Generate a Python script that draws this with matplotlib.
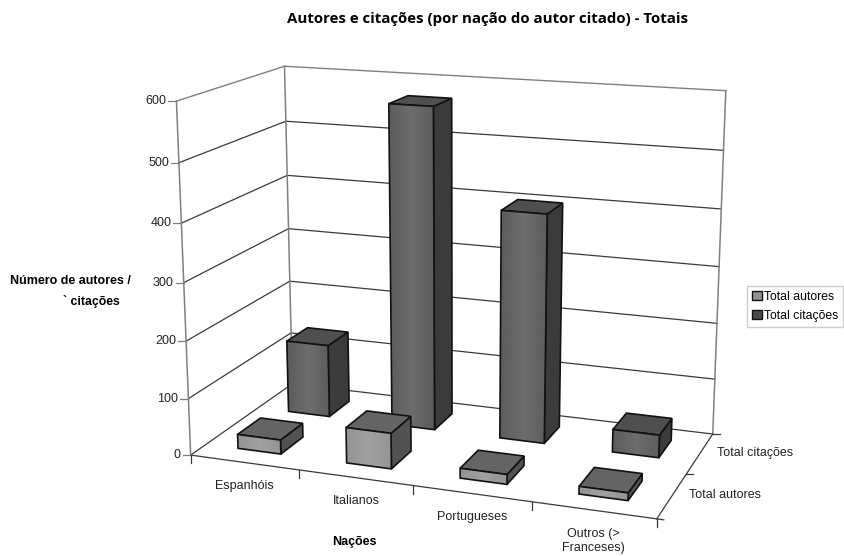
import numpy as np
import matplotlib
matplotlib.use("Agg")
import matplotlib.pyplot as plt
from matplotlib.patches import Polygon, Patch

paises = ["Espanhóis", "Italianos", "Portugueses", "Outros (>\nFranceses)"]
series = ["Total autores", "Total citações"]
total_autores = [25, 62, 17, 13]
total_citacoes = [132, 570, 402, 40]
z_ticks = [0, 100, 200, 300, 400, 500, 600]

plt.rcParams['font.family'] = ['Liberation Sans', 'DejaVu Sans']

# where the corners of the 3D box sit on the picture (x cat, y row, z value) -> px
calib_3d = [(0, 0, 0), (4, 0, 0), (4, 2, 0), (0, 2, 0), (0, 0, 600), (0, 2, 600), (4, 2, 600),
            (0, 0, 300), (0, 2, 300), (4, 2, 300), (1, 0, 0), (2, 0, 0), (3, 0, 0)]
calib_px = [(191, 455), (657, 518), (713, 433), (293, 384), (177, 101), (284, 66), (726, 91),
            (184, 282), (288, 229), (719, 267), (299, 470), (412, 486), (532, 503)]

# camera matrix, least squares
A = []
b = []
for (X, Y, Z), (u, v) in zip(calib_3d, calib_px):
    A.append([X, Y, Z, 1, 0, 0, 0, 0, -u * X, -u * Y, -u * Z])
    b.append(u)
    A.append([0, 0, 0, 0, X, Y, Z, 1, -v * X, -v * Y, -v * Z])
    b.append(v)
P = np.linalg.lstsq(np.array(A, float), np.array(b, float), rcond=None)[0]
P = np.append(P, 1).reshape(3, 4)


def proj(x, y, z):
    p = P @ np.array([x, y, z, 1.0])
    return p[0] / p[2], p[1] / p[2]


fig = plt.figure(figsize=(8.44, 5.56), dpi=100)
ax = fig.add_axes([0, 0, 1, 1])
ax.axis('off')

# walls and grid
for z in z_ticks:
    pts = [proj(0, 0, z), proj(0, 2, z), proj(4, 2, z)]
    col = '#7f7f7f' if z == 600 else '#3a3a3a'
    ax.plot(*zip(*pts), color=col, lw=1.0 if z == 600 else 0.9, zorder=1)
for c in [(0, 0), (0, 2), (4, 2)]:
    ax.plot(*zip(proj(*c, 0), proj(*c, 600)), color='#7f7f7f', lw=1.1, zorder=1)

# floor edges
ax.plot(*zip(proj(0, 0, 0), proj(4, 0, 0), proj(4, 2, 0)), color='#3a3a3a', lw=0.9, zorder=1)

# ticks
for z in z_ticks:
    px, py = proj(0, 0, z)
    ax.plot([px - 8, px], [py, py], color='#7f7f7f', lw=0.9, zorder=1)
    ax.text(px - 10, py, str(z), ha='right', va='center', fontsize=9, color='#222222')
for i in range(5):
    px, py = proj(i, 0, 0)
    ax.plot([px, px], [py, py + 8], color='#3a3a3a', lw=0.9, zorder=1)
for j in range(3):
    px, py = proj(4, j, 0)
    ax.plot([px, px + 7], [py, py + (1 if j == 0 else 0)], color='#3a3a3a', lw=0.9, zorder=1)


def bar(i, j, val, front_lo, front_hi, top_col, side_col, zo):
    x0, x1 = i + 0.5 - 0.2, i + 0.5 + 0.2
    y0, y1 = j + 0.5 - 0.22, j + 0.5 + 0.22
    front = [proj(x0, y0, 0), proj(x1, y0, 0), proj(x1, y0, val), proj(x0, y0, val)]
    side = [proj(x1, y0, 0), proj(x1, y1, 0), proj(x1, y1, val), proj(x1, y0, val)]
    top = [proj(x0, y0, val), proj(x1, y0, val), proj(x1, y1, val), proj(x0, y1, val)]
    ax.add_patch(Polygon(side, fc=side_col, ec='#111111', lw=1.2, zorder=zo))
    ax.add_patch(Polygon(top, fc=top_col, ec='#111111', lw=1.2, zorder=zo))
    poly = Polygon(front, fc='none', ec='#111111', lw=1.2, zorder=zo + 0.2)
    ax.add_patch(poly)
    xs = [p[0] for p in front]
    ys = [p[1] for p in front]
    grad = np.interp(np.linspace(0, 1, 64), [0, 0.5, 1], [front_lo, front_hi, front_lo]).reshape(1, -1)
    im = ax.imshow(grad, extent=(min(xs), max(xs), max(ys), min(ys)), cmap='gray', vmin=0, vmax=1,
                   aspect='auto', interpolation='bilinear', zorder=zo + 0.1)
    im.set_clip_path(poly)


for i, v in enumerate(total_citacoes):
    bar(i, 1, v, 0.36, 0.43, '#4f4f4f', '#3b3b3b', 3 + i)
for i, v in enumerate(total_autores):
    bar(i, 0, v, 0.58, 0.63, '#646464', '#525252', 10 + i)

# labels
lab_pos = [(244, 486), (356, 501), (472, 517), (593, 541)]
for nome, (lx, ly) in zip(paises, lab_pos):
    ax.text(lx, ly, nome, ha='center', va='center', fontsize=9, color='#222222', linespacing=1.25)
ax.text(717, 453, series[1], ha='left', va='center', fontsize=9, color='#222222')
ax.text(689, 495, series[0], ha='left', va='center', fontsize=9, color='#222222')

ax.text(354, 542, "Nações", ha='center', va='center', fontsize=9, fontweight='bold')
ax.text(10, 281, "Número de autores /", ha='left', va='center', fontsize=9, fontweight='bold')
ax.text(63, 302, "` citações", ha='left', va='center', fontsize=8.8, fontweight='bold')
ax.text(488, 18.5, "Autores e citações (por nação do autor citado) - Totais", ha='center', va='center',
        fontsize=10.85, fontweight='bold', family='Open Sans')

handles = [Patch(fc='#909090', ec='#111111', lw=1), Patch(fc='#4a4a4a', ec='#111111', lw=1)]
ax.legend(handles, series, loc='upper left', bbox_to_anchor=(747, 286), bbox_transform=ax.transData,
          fontsize=8.8, handlelength=0.8, handleheight=0.8, handletextpad=0.2, labelspacing=0.55,
          borderpad=0.4, borderaxespad=0, fancybox=False, edgecolor='#cccccc', framealpha=1)

ax.set_xlim(0, 844)
ax.set_ylim(556, 0)
fig.savefig("out.png", dpi=100)
